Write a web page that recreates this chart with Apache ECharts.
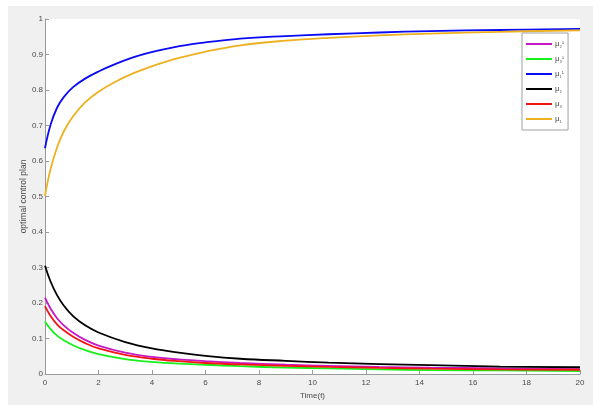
<!DOCTYPE html>
<html>
<head>
<meta charset="utf-8">
<script src="https://cdn.jsdelivr.net/npm/echarts@6/dist/echarts.min.js"></script>
<style>
html,body{margin:0;padding:0;background:#fff;}
#bg{position:absolute;left:8px;top:6px;right:0;bottom:0;background:#f0f0f0;}
#chart{position:absolute;left:0;top:0;width:593px;height:405px;}
</style>
</head>
<body>
<div id="bg"></div>
<div id="chart"></div>
<script>
// time points for the upper curves
var tUpper = [0, 0.2, 0.45, 0.7, 1.05, 1.5, 2, 2.6, 3.5, 4.8, 6, 7.3, 9, 10.6, 12.5, 14.4, 17, 20];
var mu1_1 = [0.636, 0.700, 0.750, 0.780, 0.808, 0.832, 0.852, 0.872, 0.897, 0.920, 0.934, 0.945, 0.952, 0.957, 0.962, 0.966, 0.969, 0.972];
var mu1   = [0.502, 0.575, 0.638, 0.683, 0.726, 0.765, 0.795, 0.822, 0.853, 0.886, 0.908, 0.926, 0.939, 0.947, 0.954, 0.959, 0.964, 0.968];
// time points for the lower curves
var tLower = [0, 0.2, 0.45, 0.7, 1.05, 1.5, 2, 3, 4, 5, 6, 7.3, 9, 10.6, 12.5, 14.4, 17, 20];
var mu2   = [0.305, 0.262, 0.222, 0.193, 0.163, 0.137, 0.117, 0.090, 0.072, 0.060, 0.051, 0.043, 0.037, 0.032, 0.028, 0.025, 0.021, 0.019];
var mu2_1 = [0.215, 0.185, 0.157, 0.137, 0.116, 0.096, 0.080, 0.060, 0.048, 0.041, 0.036, 0.031, 0.026, 0.023, 0.020, 0.018, 0.016, 0.014];
var mu3   = [0.191, 0.164, 0.140, 0.123, 0.105, 0.087, 0.072, 0.054, 0.043, 0.036, 0.031, 0.027, 0.023, 0.020, 0.017, 0.015, 0.013, 0.012];
var mu3_1 = [0.148, 0.127, 0.108, 0.095, 0.081, 0.067, 0.056, 0.042, 0.034, 0.029, 0.026, 0.022, 0.018, 0.016, 0.013, 0.011, 0.010, 0.008];
var xTicks = [0, 2, 4, 6, 8, 10, 12, 14, 16, 18, 20];
var yTicks = [0, 0.1, 0.2, 0.3, 0.4, 0.5, 0.6, 0.7, 0.8, 0.9, 1];

function pairs(t, v){ return t.map(function(x,i){ return [x, v[i]]; }); }

var seriesDefs = [
  {name:'mu2_1', label:'{m|μ}{s|₂}{p|¹}', t:tLower, v:mu2_1, color:'#c718c7'},
  {name:'mu3_1', label:'{m|μ}{s|₃}{p|¹}', t:tLower, v:mu3_1, color:'#19f019'},
  {name:'mu1_1', label:'{m|μ}{s|₁}{p|¹}', t:tUpper, v:mu1_1, color:'#0a0af5'},
  {name:'mu2',   label:'{m|μ}{s|₂}',      t:tLower, v:mu2,   color:'#000000'},
  {name:'mu3',   label:'{m|μ}{s|₃}',      t:tLower, v:mu3,   color:'#f51414'},
  {name:'mu1',   label:'{m|μ}{s|₁}',      t:tUpper, v:mu1,   color:'#edb120'}
];
var labelMap = {};
seriesDefs.forEach(function(d){ labelMap[d.name] = d.label; });

var chart = echarts.init(document.getElementById('chart'), null, {renderer:'canvas'});
var axisCol = '#9a9a9a';
var txtCol = '#4a4a4a';
chart.setOption({
  backgroundColor: 'transparent',
  animation: false,
  grid: {left:45, top:19, width:535, height:357, show:true, backgroundColor:'#ffffff', borderWidth:0},
  legend: {
    orient:'vertical', left:522, top:33,
    data: seriesDefs.map(function(d){return d.name;}),
    itemWidth:26, itemHeight:2, itemGap:7,
    padding:[7,4,7,4],
    borderColor:'#a0a0a0', borderWidth:1, backgroundColor:'#ffffff',
    icon:'rect',
    formatter: function(n){ return labelMap[n]; },
    textStyle: {
      color: txtCol, fontFamily:'Liberation Sans', fontSize:7, padding:[0,0,0,-2],
      rich: {
        m:{fontSize:8, color:txtCol, fontFamily:'Liberation Sans'},
        s:{fontSize:6, color:txtCol, fontFamily:'Liberation Sans', verticalAlign:'bottom', lineHeight:8},
        p:{fontSize:6, color:txtCol, fontFamily:'Liberation Sans', verticalAlign:'top', lineHeight:8}
      }
    }
  },
  xAxis: {
    type:'value', min:0, max:20, interval:2,
    name:'Time(t)', nameLocation:'middle', nameGap:18,
    nameTextStyle:{color:txtCol, fontSize:8, fontFamily:'Liberation Sans'},
    axisLine:{show:true, lineStyle:{color:axisCol, width:1}},
    axisTick:{show:true, inside:true, length:4, lineStyle:{color:axisCol}},
    axisLabel:{color:txtCol, fontSize:8, margin:5, fontFamily:'Liberation Sans',
      formatter:function(v){ return xTicks.indexOf(v) >= 0 ? String(v) : ''; }},
    splitLine:{show:false}
  },
  yAxis: {
    type:'value', min:0, max:1, interval:0.1,
    name:'optimal control plan', nameLocation:'middle', nameGap:17, nameMoveOverlap:false,
    nameTextStyle:{color:txtCol, fontSize:8.5, fontFamily:'Liberation Sans'},
    axisLine:{show:true, lineStyle:{color:axisCol, width:1}},
    axisTick:{show:true, inside:true, length:4, lineStyle:{color:axisCol}},
    axisLabel:{color:txtCol, fontSize:8, margin:2, fontFamily:'Liberation Sans',
      formatter:function(v){ var r = Math.round(v*10)/10; return String(r); }},
    splitLine:{show:false}
  },
  series: seriesDefs.map(function(d){
    return {
      name:d.name, type:'line', data:pairs(d.t, d.v), smooth:0.4,
      showSymbol:false, symbol:'none',
      lineStyle:{color:d.color, width:1.8}, itemStyle:{color:d.color},
      z: 2
    };
  })
});
</script>
</body>
</html>
